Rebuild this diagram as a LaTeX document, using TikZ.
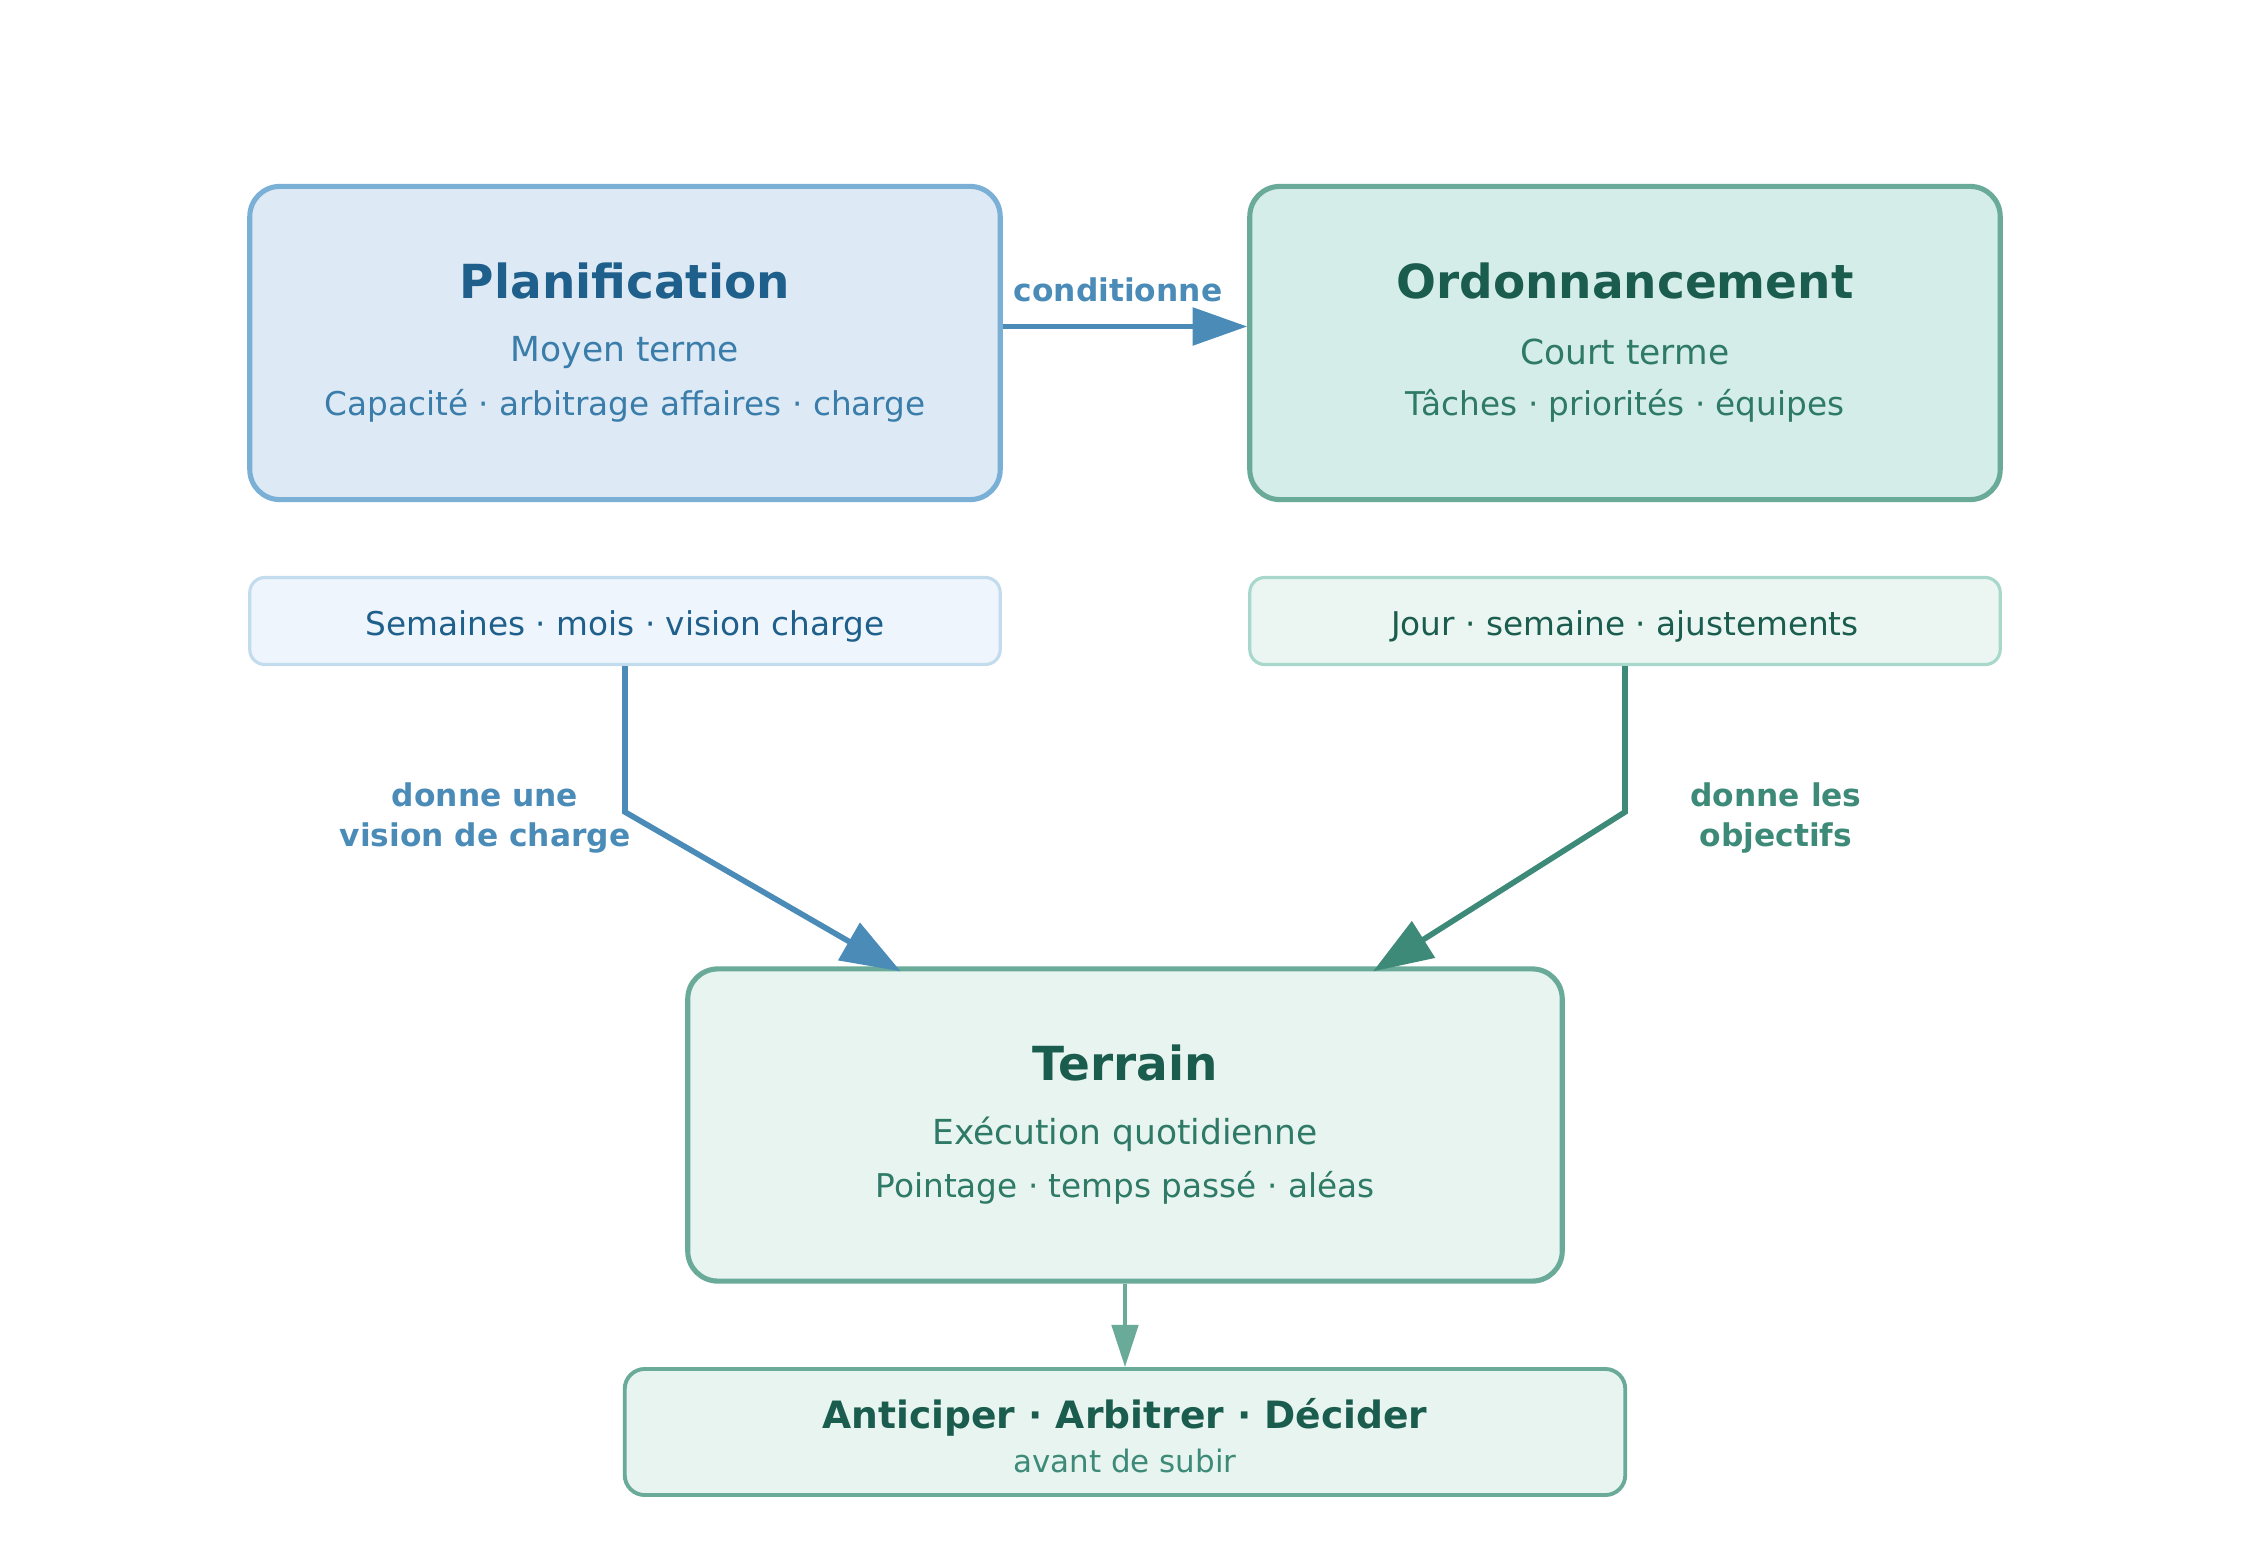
\documentclass[tikz,border=0pt]{standalone}
\usepackage{fontspec}
\setmainfont{DejaVu Sans}
\usepackage{xcolor}
\usepackage{tikz}
\usetikzlibrary{arrows.meta, positioning, calc}

\definecolor{planfill}{HTML}{DDEAF5}
\definecolor{planedge}{HTML}{7BB0D6}
\definecolor{plandark}{HTML}{1F5F8B}
\definecolor{planmid}{HTML}{3A7DAA}
\definecolor{planarrow}{HTML}{4A8BB8}
\definecolor{plansubfill}{HTML}{EEF5FC}
\definecolor{plansubedge}{HTML}{C2DCEE}
\definecolor{ordofill}{HTML}{D4EDE8}
\definecolor{ordoedge}{HTML}{6AAA98}
\definecolor{ordodark}{HTML}{1A5C4E}
\definecolor{ordomid}{HTML}{2E7A66}
\definecolor{ordoarrow}{HTML}{3D8A78}
\definecolor{ordosubfill}{HTML}{EBF6F2}
\definecolor{ordosubedge}{HTML}{A8D8CB}
\definecolor{terrfill}{HTML}{E7F4EF}

\begin{document}
\begin{tikzpicture}[x=0.01cm, y=-0.01cm,
  bigbox/.style={draw, line width=1.45pt, rounded corners=0.3cm, minimum width=7.5cm, minimum height=3.13cm},
  tagbox/.style={draw, line width=0.9pt, rounded corners=0.15cm, minimum width=7.5cm, minimum height=0.87cm},
  tagtext/.style={font=\fontsize{9.3}{11}\selectfont},
  title/.style={font=\fontsize{13.35}{15}\selectfont\bfseries},
  termline/.style={font=\fontsize{9.8}{12}\selectfont},
  subline/.style={font=\fontsize{9.3}{11}\selectfont},
  flowlbl/.style={font=\fontsize{8.9}{11.4}\selectfont\bfseries, align=center},
  flow/.style={line width=1.6pt, -{Triangle[length=17pt,width=12pt]}},
]
  \useasboundingbox (0,0) rectangle (2250,1563);

  % upper row
  \node[bigbox, draw=planedge, fill=planfill] (plan) at (625,343) {};
  \node[bigbox, draw=ordoedge, fill=ordofill] (ordo) at (1625,343) {};
  \node[title, text=plandark] (plantitle) at (625,281) {Planification};
  \node[termline, text=planmid] (planterm) at (625,353) {Moyen terme};
  \node[subline, text=planmid] (planitems) at (625,406) {Capacité · arbitrage affaires · charge};
  \node[title, text=ordodark] (ordotitle) at (1625,281) {Ordonnancement};
  \node[termline, text=ordomid] (ordoterm) at (1625,352) {Court terme};
  \node[subline, text=ordomid] (ordoitems) at (1625,406) {Tâches · priorités · équipes};

  \draw[flow, planarrow, -{Triangle[length=15.5pt,width=10.5pt]}] ([yshift=0.165cm]plan.east) -- ([yshift=0.165cm]ordo.west);
  \node[flowlbl, text=planarrow] (condlbl) at (1118,290) {conditionne};

  % horizon tags
  \node[tagbox, draw=plansubedge, fill=plansubfill] (plansub) at (625,621) {};
  \node[tagbox, draw=ordosubedge, fill=ordosubfill] (ordosub) at (1625,621) {};
  \node[tagtext, text=plandark] (plansubtxt) at (625,626) {Semaines · mois · vision charge};
  \node[tagtext, text=ordodark] (ordosubtxt) at (1625,626) {Jour · semaine · ajustements};

  % field level
  \node[bigbox, draw=ordoedge, fill=terrfill, minimum width=8.74cm, minimum height=3.12cm] (terrain) at (1125,1125) {};
  \node[title, text=ordodark] (terrtitle) at (1125,1063) {Terrain};
  \node[termline, text=ordomid] (terrterm) at (1125,1134) {Exécution quotidienne};
  \node[subline, text=ordomid] (territems) at (1125,1188) {Pointage · temps passé · aléas};

  \coordinate (lbend) at (625,812);
  \coordinate (rbend) at (1625,812);
  \draw[flow, planarrow] (plansub.south) -- (lbend) -- ([yshift=-0.05cm]$(terrain.north west)!0.245!(terrain.north east)$);
  \draw[flow, ordoarrow] (ordosub.south) -- (rbend) -- ([yshift=-0.05cm]$(terrain.north west)!0.782!(terrain.north east)$);
  \node[flowlbl, text=planarrow] (planlbl) at (485,818) {donne une\\vision de charge};
  \node[flowlbl, text=ordoarrow] (ordolbl) at (1776,818) {donne les\\objectifs};

  % outcome
  \node[draw=ordoedge, fill=terrfill, line width=1.1pt, rounded corners=0.2cm, minimum width=10cm, minimum height=1.26cm] (action) at (1125,1432) {};
  \node[font=\fontsize{10.7}{13}\selectfont\bfseries, text=ordodark] (actiontitle) at (1125,1417) {Anticiper · Arbitrer · Décider};
  \node[font=\fontsize{8.8}{11}\selectfont, text=ordoarrow] (actionsub) at (1125,1461) {avant de subir};
  \draw[line width=1.1pt, ordoedge, -{Triangle[length=12pt,width=7.5pt]}] (terrain) -- (action);
\end{tikzpicture}
\end{document}
